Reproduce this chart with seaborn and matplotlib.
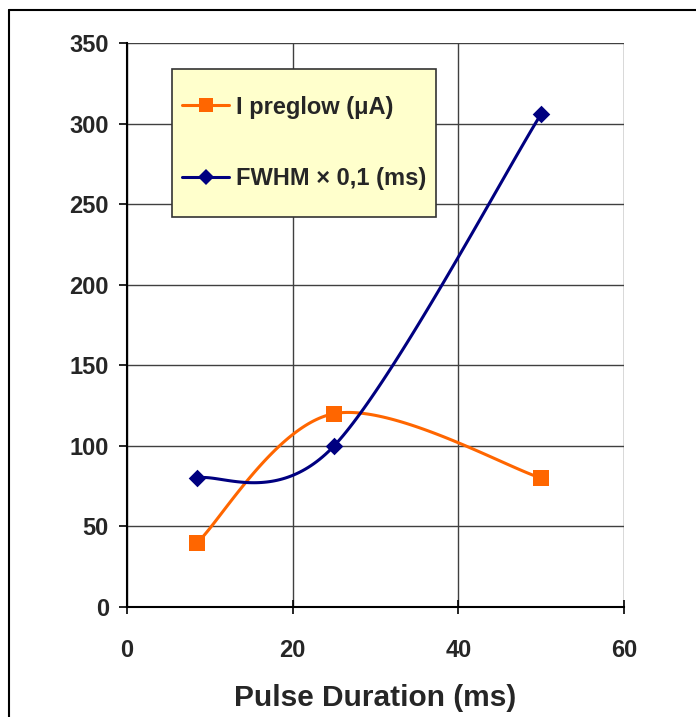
import numpy as np
import pandas as pd
import matplotlib
matplotlib.use("Agg")
import matplotlib.pyplot as plt
import seaborn as sns
from matplotlib.lines import Line2D
from matplotlib.legend_handler import HandlerLine2D

# Measured values
pulse_ms = [8.5, 25, 50]
preglow_uA = [40, 120, 80]
fwhm_scaled = [80, 100, 306]
series_names = ["I preglow (\u03bcA)", "FWHM \u00d7 0,1 (ms)"]
x_ticks = [0, 20, 40, 60]
y_ticks = [0, 50, 100, 150, 200, 250, 300, 350]

ORANGE = "#FF6600"
NAVY = "#000080"


def smooth_curve(xs, ys, n=60):
    """Catmull-Rom style Bezier smoothing through the given points."""
    pts = np.column_stack([xs, ys]).astype(float)
    out = []
    for i in range(len(pts) - 1):
        p0 = pts[i - 1] if i > 0 else pts[i]
        p1 = pts[i]
        p2 = pts[i + 1]
        p3 = pts[i + 2] if i + 2 < len(pts) else pts[i + 1]
        c1 = p1 + (p2 - p0) / 6.0
        c2 = p2 - (p3 - p1) / 6.0
        t = np.linspace(0, 1, n)[:, None]
        seg = ((1 - t) ** 3) * p1 + 3 * ((1 - t) ** 2) * t * c1 + 3 * (1 - t) * t ** 2 * c2 + t ** 3 * p2
        out.append(seg if i == 0 else seg[1:])
    seg = np.vstack(out)
    return seg[:, 0], seg[:, 1]


class CenteredLineHandler(HandlerLine2D):
    """Line+marker legend handle lowered to sit on the label's centre line."""

    def __init__(self, shift=6.5, **kw):
        super().__init__(**kw)
        self.shift = shift

    def create_artists(self, legend, orig_handle, xdescent, ydescent, width,
                       height, fontsize, trans):
        artists = super().create_artists(legend, orig_handle, xdescent, ydescent,
                                         width, height, fontsize, trans)
        for a in artists:
            a.set_ydata(np.asarray(a.get_ydata(), dtype=float) - self.shift)
        return artists


sns.set_theme(style="white")
plt.rcParams["font.family"] = ["Liberation Sans", "DejaVu Sans"]
plt.rcParams["font.weight"] = "bold"

fig = plt.figure(figsize=(6.96, 7.17), dpi=100)
ax = fig.add_axes([127 / 696, 1 - 607 / 717, (624 - 127) / 696, (607 - 43) / 717])

# Smoothed connecting lines
sx, sy = smooth_curve(pulse_ms, preglow_uA)
sns.lineplot(x=sx, y=sy, ax=ax, color=ORANGE, lw=2.2, sort=False, estimator=None, zorder=3)
bx, by = smooth_curve(pulse_ms, fwhm_scaled)
sns.lineplot(x=bx, y=by, ax=ax, color=NAVY, lw=2.2, sort=False, estimator=None, zorder=3)

# Data markers
df = pd.DataFrame({"x": pulse_ms, "preglow": preglow_uA, "fwhm": fwhm_scaled})
sns.scatterplot(data=df, x="x", y="preglow", ax=ax, marker="s", s=130, color=ORANGE,
                edgecolor=ORANGE, linewidth=0, zorder=4)
sns.scatterplot(data=df, x="x", y="fwhm", ax=ax, marker="D", s=80, color=NAVY,
                edgecolor=NAVY, linewidth=0, zorder=4)

ax.set_xlim(0, 60)
ax.set_ylim(0, 350)
ax.set_xticks(x_ticks)
ax.set_yticks(y_ticks)
ax.set_xlabel("Pulse Duration (ms)", fontsize=21.5, fontweight="bold", labelpad=16)
ax.set_ylabel("")

ax.grid(True, color="#404040", lw=1)
ax.set_axisbelow(True)
for side in ["top", "right"]:
    ax.spines[side].set_visible(False)
for side in ["left", "bottom"]:
    ax.spines[side].set_color("black")
    ax.spines[side].set_linewidth(1.5)

ax.tick_params(axis="y", direction="out", length=6, width=1.2, color="black",
               labelsize=17, pad=7, left=True)
ax.tick_params(axis="x", direction="inout", length=10, width=1.2, color="black",
               labelsize=17, pad=18, bottom=True)
for lab in ax.get_xticklabels() + ax.get_yticklabels():
    lab.set_fontweight("bold")

handles = [
    Line2D([0], [0], color=ORANGE, lw=2.2, marker="s", markersize=10, markeredgewidth=0),
    Line2D([0], [0], color=NAVY, lw=2.2, marker="D", markersize=8, markeredgewidth=0),
]
leg = ax.legend(handles, series_names, loc="upper left",
                bbox_to_anchor=(172 / 696, 1 - 69 / 717), bbox_transform=fig.transFigure,
                prop={"family": "Liberation Sans", "weight": "bold", "size": 17},
                frameon=True, fancybox=False, handlelength=2.0, handletextpad=0.3,
                handleheight=3.3, labelspacing=0.64, borderpad=0.42, borderaxespad=0,
                handler_map={Line2D: CenteredLineHandler(shift=6.5)})
frame = leg.get_frame()
frame.set_facecolor("#FFFFCC")
frame.set_edgecolor("#333333")
frame.set_linewidth(1.2)
frame.set_alpha(1)

# Outer chart border
fig.add_artist(Line2D([9 / 696, 9 / 696], [0, 1 - 10 / 717], transform=fig.transFigure,
                      color="black", lw=1.5))
fig.add_artist(Line2D([9 / 696, 1], [1 - 10 / 717, 1 - 10 / 717], transform=fig.transFigure,
                      color="black", lw=1.5))

fig.savefig("out.png", dpi=100, facecolor="white")
